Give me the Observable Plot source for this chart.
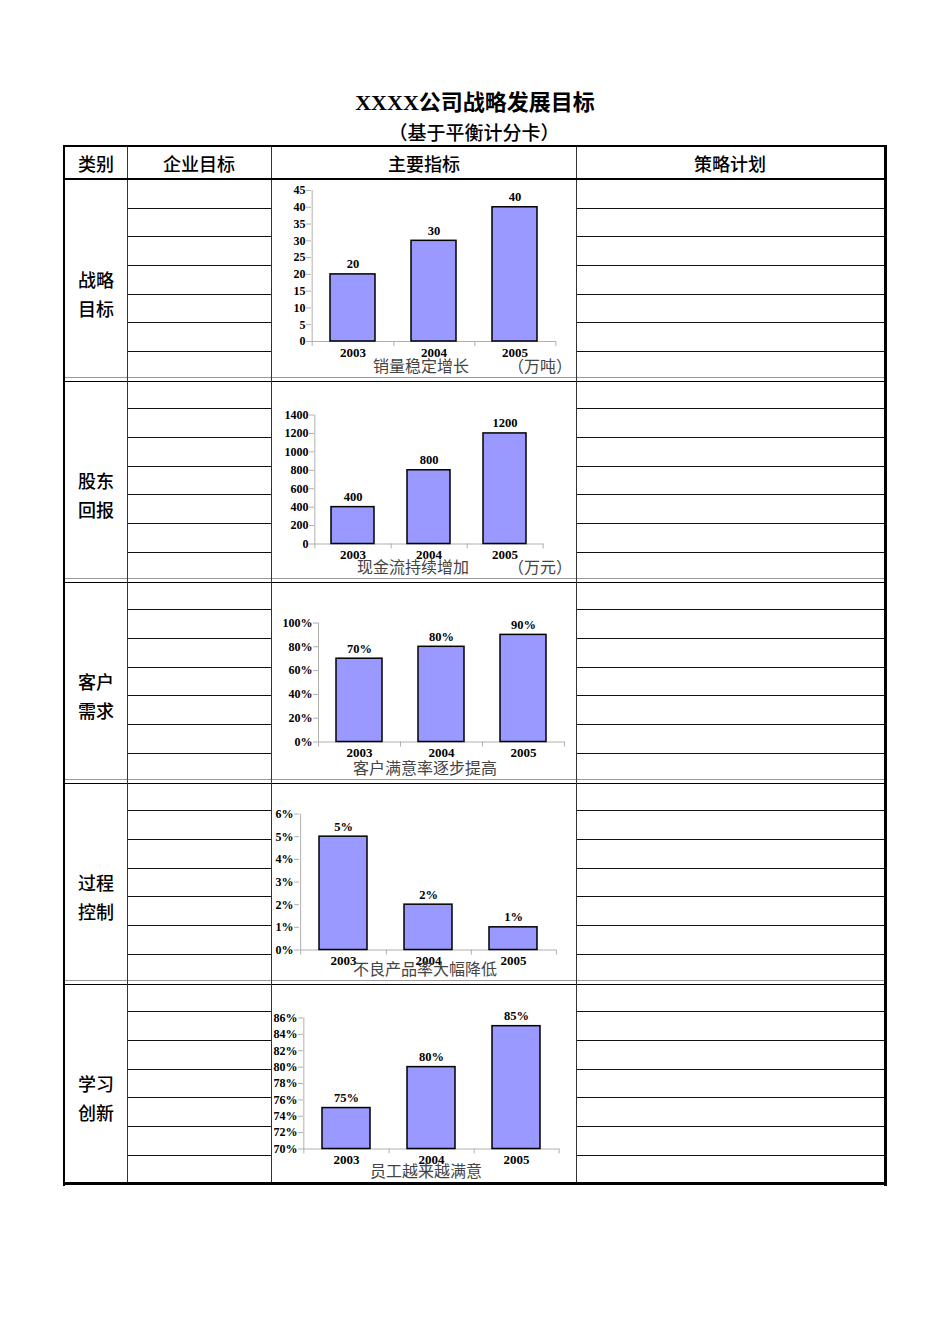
<!DOCTYPE html>
<html><head><meta charset="utf-8">
<script src="https://cdn.jsdelivr.net/npm/d3@7"></script>
<script src="https://cdn.jsdelivr.net/npm/@observablehq/plot@0.6"></script>
<style>
body{margin:0;background:#fff;}
#page{position:relative;width:950px;height:1344px;background:#fff;overflow:hidden;font-family:"Noto Sans CJK SC",sans-serif;}
.ln{position:absolute;}
.t{position:absolute;white-space:nowrap;transform:translate(-50%,-50%);line-height:1;}
.tl{position:absolute;white-space:nowrap;transform:translate(0,-50%);line-height:1;}
.chart{position:absolute;}
</style></head><body><div id="page"></div>
<script>
// ---- data ----
const title = "XXXX公司战略发展目标";
const subtitle = "（基于平衡计分卡）";
const headers = ["类别", "企业目标", "主要指标", "策略计划"];
const categories = [["战略", "目标"], ["股东", "回报"], ["客户", "需求"], ["过程", "控制"], ["学习", "创新"]];
const years = ["2003", "2004", "2005"];
const sales = [20, 30, 40];               // 万吨
const cashflow = [400, 800, 1200];        // 万元
const customerSat = [70, 80, 90];         // %
const defectRate = [5, 2, 1];             // %
const employeeSat = [75, 80, 85];         // %
const salesTicks = [0, 5, 10, 15, 20, 25, 30, 35, 40, 45];
const cashTicks = [0, 200, 400, 600, 800, 1000, 1200, 1400];
const customerTicks = [0, 20, 40, 60, 80, 100];
const defectTicks = [0, 1, 2, 3, 4, 5, 6];
const employeeTicks = [70, 72, 74, 76, 78, 80, 82, 84, 86];
const captions = ["销量稳定增长", "现金流持续增加", "客户满意率逐步提高", "不良产品率大幅降低", "员工越来越满意"];
const units = ["（万吨）", "（万元）", "", "", ""];

// ---- layout ----
const page = document.getElementById("page");
function line(x, y, w, h, c) {
  const d = document.createElement("div");
  d.className = "ln";
  Object.assign(d.style, {left: x + "px", top: y + "px", width: w + "px", height: h + "px", background: c});
  page.appendChild(d);
}
function text(str, x, y, style, cls = "t") {
  const d = document.createElement("div");
  d.className = cls;
  d.textContent = str;
  Object.assign(d.style, {left: x + "px", top: y + "px"}, style);
  page.appendChild(d);
  return d;
}

const L = 64, R = 885, T = 146, HB = 178.5, B = 1183.5;
const cols = [127, 271, 576];
const secs = [179, 379.5, 580.5, 781.5, 982.5, 1183.5];

// row lines in columns 2 and 4
for (let s = 0; s < 5; s++) {
  const h = (secs[s + 1] - secs[s]) / 7;
  for (let k = 1; k <= 6; k++) {
    const y = Math.round(secs[s] + k * h) - 0.5;
    line(cols[0], y, cols[1] - cols[0] + 1, 1.2, "#111");
    line(cols[2], y, R - cols[2], 1.2, "#111");
  }
}
// section separators (double line)
for (let s = 1; s < 5; s++) {
  line(L, secs[s] - 2.5, R - L, 1.3, "#9a9a9a");
  line(L, secs[s] + 1, R - L, 1.3, "#000");
}
// column dividers
cols.forEach(x => line(x, T, 1.2, B - T, "#333"));
// header bottom
line(L, HB - 0.5, R - L, 1.6, "#000");
// outer border
line(L - 1.5, T - 1.5, R - L + 3, 2.5, "#000");
line(L - 1.5, B - 1.5, R - L + 3, 3, "#000");
line(L - 1.5, T - 1.5, 2.5, B - T + 4, "#000");
line(R - 1.5, T - 1.5, 3, B - T + 4, "#000");

// title
text(title, 475, 103, {fontFamily: '"Liberation Serif","Noto Sans CJK SC",serif', fontWeight: "bold", fontSize: "22px"});
text(subtitle, 474, 131, {fontWeight: "500", fontSize: "19px"});
// headers
const hx = [96, 199, 424, 730];
headers.forEach((h, i) => text(h, hx[i], 163, {fontSize: "18px", fontWeight: "500"}));
// category labels
categories.forEach((c, i) => {
  text(c[0], 96, secs[i] + 100, {fontSize: "18px", fontWeight: "500"});
  text(c[1], 96, secs[i] + 129, {fontSize: "18px", fontWeight: "500"});
});

// ---- charts ----
const plain = d => String(d);
const pct = d => d + "%";
function chart(values, domain, ticks, fmt, m) {
  const data = years.map((y, i) => ({year: y, value: values[i]}));
  const W = 305, H = 200;
  const step = (W - m.l - m.r) / years.length;
  const ext = 5 * (domain[1] - domain[0]) / (H - m.t - m.b);
  return Plot.plot({
    width: W, height: H,
    marginLeft: m.l, marginRight: m.r, marginTop: m.t, marginBottom: m.b,
    style: {fontFamily: '"Liberation Serif",serif', fontSize: "12px", fontWeight: "bold", background: "transparent", color: "#000", overflow: "visible"},
    x: {domain: years, paddingInner: 0.44, paddingOuter: 0.22, label: null},
    y: {domain, label: null},
    marks: [
      Plot.ruleY([domain[0]], {stroke: "#b0b0b0"}),
      Plot.ruleX([years[0]], {dx: -step / 2, y1: () => domain[0] - ext, y2: () => domain[1], stroke: "#b0b0b0"}),
      Plot.ruleX(years, {x: d => d, dx: step / 2, y1: () => domain[0], y2: () => domain[0] - ext, stroke: "#b0b0b0"}),
      Plot.axisY({ticks, tickSize: 5, tickPadding: 1, stroke: "#b0b0b0", fill: "#000", tickFormat: fmt, label: null, fontSize: 12}),
      Plot.axisX({tickSize: 0, tickPadding: 6, fill: "#000", label: null, fontSize: 13}),
      Plot.barY(data, {x: "year", y1: () => domain[0], y2: "value", fill: "#9999ff", stroke: "#000", strokeWidth: 1.5}),
      Plot.text(data, {x: "year", y: "value", text: d => fmt(d.value), dy: -10, fill: "#000", fontSize: 12.5})
    ]
  });
}

const specs = [
  [sales, [0, 45], salesTicks, plain, {l: 40, r: 20, t: 11, b: 38}],
  [cashflow, [0, 1400], cashTicks, plain, {l: 43, r: 33, t: 34.5, b: 36.5}],
  [customerSat, [0, 100], customerTicks, pct, {l: 47, r: 12, t: 41.5, b: 39.5}],
  [defectRate, [0, 6], defectTicks, pct, {l: 28, r: 20, t: 31.5, b: 32.5}],
  [employeeSat, [70, 86], employeeTicks, pct, {l: 32, r: 17, t: 34.5, b: 34.5}]
];
specs.forEach((sp, i) => {
  const svg = chart(...sp);
  const wrap = document.createElement("div");
  wrap.className = "chart";
  wrap.style.left = "271px";
  wrap.style.top = secs[i] + "px";
  wrap.appendChild(svg);
  page.appendChild(wrap);
});

// captions
const capPos = [[373, 365], [357, 566], [353, 767], [353, 968], [370, 1170]];
captions.forEach((c, i) => {
  text(c, capPos[i][0], capPos[i][1], {fontSize: "16px", color: "#444"}, "tl");
  if (units[i]) text(units[i], 508, capPos[i][1], {fontSize: "16px", color: "#444"}, "tl");
});
</script></body></html>
